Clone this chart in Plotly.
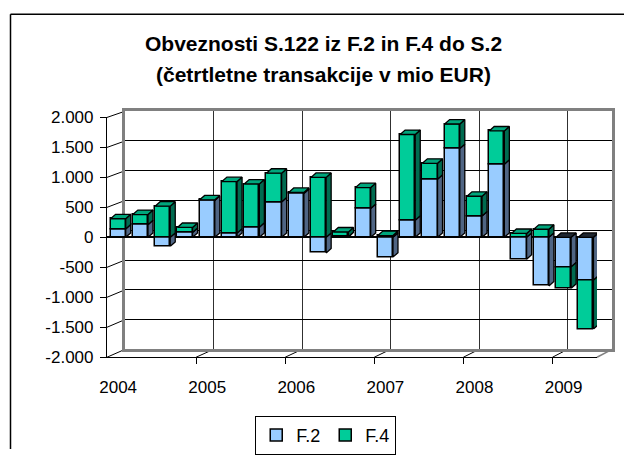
import plotly.graph_objects as go

# ---------------- data ----------------
quarters = ["2004Q1", "2004Q2", "2004Q3", "2004Q4",
            "2005Q1", "2005Q2", "2005Q3", "2005Q4",
            "2006Q1", "2006Q2", "2006Q3", "2006Q4",
            "2007Q1", "2007Q2", "2007Q3", "2007Q4",
            "2008Q1", "2008Q2", "2008Q3", "2008Q4",
            "2009Q1", "2009Q2"]
f2 = [140, 210, -150, 80, 615, 70, 170, 590,
      730, -260, 10, 480, -330, 285, 970, 1480,
      355, 1220, -365, -810, -495, -715]
f4 = [170, 170, 520, 85, 10, 860, 720, 480,
      20, 1000, 80, 350, 30, 1430, 265, 410,
      330, 555, 65, 135, -355, -815]
year_labels = ["2004", "2005", "2006", "2007", "2008", "2009"]
y_ticks = [-2000, -1500, -1000, -500, 0, 500, 1000, 1500, 2000]
y_ticktext = ["-2.000", "-1.500", "-1.000", "-500", "0", "500", "1.000", "1.500", "2.000"]

# ---------------- geometry / style ----------------
W, H = 624, 455
FX0, FX1, FY0, FY1 = 107, 597, 119, 362      # front plane (px)
BX0, BX1, BY0, BY1 = 125, 612, 112.7, 354    # back wall (px)
n = len(quarters)
xr = [-0.5, n - 0.5]
yr = [-2000, 2000]
bar_w = 0.68
dx = 5.0 / ((FX1 - FX0) / n)        # depth offset in category units
dy = 4.5 / ((FY1 - FY0) / 4000.0)   # depth offset in value units

BLUE, BLUE_SIDE, DARK_TOP = "#99CCFF", "#4F6584", "#1E2630"
GREEN, GREEN_SIDE, GREEN_TOP = "#00CC99", "#006B50", "#00A67C"
BLUE_TOP = "#7A9CC4"
FONT = "Liberation Sans, Arial, sans-serif"

xs = list(range(n))

fig = go.Figure()

# invisible trace to create the back-wall subplot (x / y)
fig.add_trace(go.Scatter(x=[None], y=[None], xaxis="x", yaxis="y",
                         showlegend=False, hoverinfo="skip"))

# front faces: stacked bars
fig.add_trace(go.Bar(x=xs, y=f2, name="F.2", width=bar_w, xaxis="x2", yaxis="y2",
                     marker=dict(color=BLUE, line=dict(color="black", width=1.5)),
                     customdata=quarters, hovertemplate="%{customdata}: %{y}<extra>F.2</extra>"))
fig.add_trace(go.Bar(x=xs, y=f4, name="F.4", width=bar_w, xaxis="x2", yaxis="y2",
                     marker=dict(color=GREEN, line=dict(color="black", width=1.5)),
                     customdata=quarters, hovertemplate="%{customdata}: %{y}<extra>F.4</extra>"))

# 3D side / top faces computed from the data
sides = {"b": ([], []), "g": ([], [])}
tops = {"b": ([], []), "g": ([], []), "d": ([], [])}
for i in xs:
    pos, neg = 0.0, 0.0
    top_key = "d"
    for key, val in (("b", f2[i]), ("g", f4[i])):
        if val >= 0:
            y0, y1 = pos, pos + val
            pos = y1
            if val > 0:
                top_key = key
        else:
            y0, y1 = neg + val, neg
            neg = y0
        r = i + bar_w / 2
        px_, py_ = sides[key]
        px_ += [r, r + dx, r + dx, r, r, None]
        py_ += [y0, y0 + dy, y1 + dy, y1, y0, None]
    l, r = i - bar_w / 2, i + bar_w / 2
    tx, ty = tops[top_key]
    tx += [l, l + dx, r + dx, r, l, None]
    ty += [pos, pos + dy, pos + dy, pos, pos, None]

for key, col in (("b", BLUE_SIDE), ("g", GREEN_SIDE)):
    fig.add_trace(go.Scatter(x=sides[key][0], y=sides[key][1], xaxis="x2", yaxis="y2",
                             mode="lines", fill="toself", fillcolor=col,
                             line=dict(color="black", width=1.3),
                             showlegend=False, hoverinfo="skip"))
for key, col in (("b", BLUE_TOP), ("g", GREEN_TOP), ("d", DARK_TOP)):
    if tops[key][0]:
        fig.add_trace(go.Scatter(x=tops[key][0], y=tops[key][1], xaxis="x2", yaxis="y2",
                                 mode="lines", fill="toself", fillcolor=col,
                                 line=dict(color="black", width=1.3),
                                 showlegend=False, hoverinfo="skip"))

# ---------------- 3D wall decorations (paper coords from the axis mappings) ----------------
def fpx(c):
    return FX0 + (c - xr[0]) / (xr[1] - xr[0]) * (FX1 - FX0)

def bpx(c):
    return BX0 + (c - xr[0]) / (xr[1] - xr[0]) * (BX1 - BX0)

def fpy(v):
    return FY1 - (v - yr[0]) / (yr[1] - yr[0]) * (FY1 - FY0)

def bpy(v):
    return BY1 - (v - yr[0]) / (yr[1] - yr[0]) * (BY1 - BY0)

def pline(x0, y0, x1, y1, color="black", width=1, layer="below"):
    return dict(type="line", xref="paper", yref="paper", layer=layer,
                x0=x0 / W, x1=x1 / W, y0=1 - y0 / H, y1=1 - y1 / H,
                line=dict(color=color, width=width))

shapes = []
for v in y_ticks:
    shapes.append(pline(FX0, fpy(v), BX0, bpy(v)))
boundaries = [k * 4 - 0.5 for k in range(1, 6)]
for b in boundaries:
    shapes.append(pline(fpx(b), FY1, bpx(b), BY1))
shapes.append(pline(fpx(xr[1]), FY1, bpx(xr[1]), BY1, color="#808080", width=1.5))
# outer chart frame (top and left edges visible in the window)
shapes.append(pline(10.5, 14.5, W, 14.5, width=1.5, layer="above"))
shapes.append(pline(10.5, 14.5, 10.5, H, width=1.5, layer="above"))

# ---------------- layout ----------------
fig.update_layout(
    width=W, height=H, autosize=False,
    margin=dict(l=0, r=0, t=0, b=0, pad=0),
    paper_bgcolor="white", plot_bgcolor="rgba(0,0,0,0)",
    barmode="relative", bargap=0,
    font=dict(family=FONT, size=17, color="black"),
    shapes=shapes,
    showlegend=True,
    legend=dict(orientation="h", x=0.522, xanchor="center", y=1 - 441 / H, yanchor="middle",
                bordercolor="black", borderwidth=1, bgcolor="white", traceorder="normal",
                font=dict(size=18), itemwidth=30, tracegroupgap=0),
    annotations=[
        dict(text="<b>Obveznosti S.122 iz F.2 in F.4 do S.2</b>", xref="paper", yref="paper",
             x=323 / W, y=1 - 44 / H, xanchor="center", yanchor="middle", showarrow=False,
             font=dict(size=21)),
        dict(text="<b>(četrtletne transakcije v mio EUR)</b>", xref="paper", yref="paper",
             x=323 / W, y=1 - 76 / H, xanchor="center", yanchor="middle", showarrow=False,
             font=dict(size=21)),
    ],
    xaxis=dict(domain=[BX0 / W, BX1 / W], anchor="y", range=xr, showticklabels=False,
               ticks="", tickmode="array", tickvals=boundaries, showgrid=True,
               gridcolor="#303030", gridwidth=1, zeroline=False, automargin=False,
               showline=True, mirror=True, linecolor="#808080", linewidth=2.5, fixedrange=True),
    yaxis=dict(domain=[1 - BY1 / H, 1 - BY0 / H], anchor="x", range=yr, showticklabels=False,
               ticks="", tickmode="array", tickvals=y_ticks, showgrid=True,
               gridcolor="black", gridwidth=1, zeroline=False, automargin=False,
               showline=True, mirror=True, linecolor="#808080", linewidth=2.5, fixedrange=True),
    xaxis2=dict(domain=[FX0 / W, FX1 / W], anchor="y2", range=xr,
                tickmode="array", tickvals=[k * 4 for k in range(len(year_labels))],
                ticktext=year_labels, ticks="", showgrid=False, zeroline=False,
                showline=True, linecolor="black", linewidth=1.2, automargin=False,
                ticklabelstandoff=14,
                minor=dict(tickmode="array", tickvals=boundaries, ticks="outside",
                           ticklen=6, tickcolor="black", tickwidth=1, showgrid=False),
                tickfont=dict(size=17), fixedrange=True),
    yaxis2=dict(domain=[1 - FY1 / H, 1 - FY0 / H], anchor="x2", range=yr,
                tickmode="array", tickvals=y_ticks, ticktext=y_ticktext,
                ticks="outside", ticklen=6, tickcolor="black", showgrid=False,
                zeroline=True, zerolinecolor="black", zerolinewidth=1.5, automargin=False,
                ticklabelstandoff=3,
                showline=True, linecolor="black", linewidth=1.2,
                tickfont=dict(size=17), fixedrange=True),
)

fig.write_html("out.html", config={"displayModeBar": False},
               post_script="document.body.style.margin='0';document.body.style.overflow='hidden';")
